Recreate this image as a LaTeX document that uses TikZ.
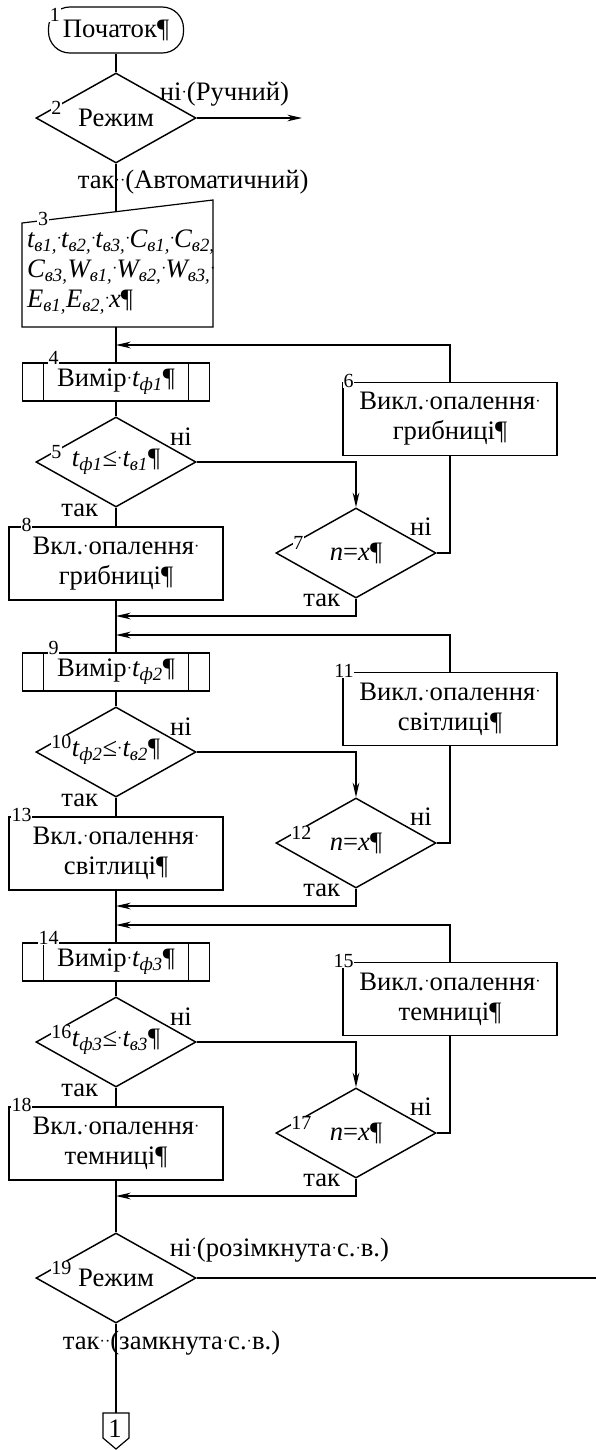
\documentclass[tikz,border=0pt]{standalone}
\usepackage{fontspec}
\setmainfont{Liberation Serif}
\usetikzlibrary{shapes.geometric,arrows.meta}

\newcommand{\ix}[1]{\textsubscript{#1}}
\newcommand{\dt}{\raisebox{2.5pt}{\fontsize{12}{12}\selectfont ·}}
\newcommand{\bigtxt}{\fontsize{20}{22.5}\selectfont}
\newcommand{\numtxt}{\fontsize{15}{17}\selectfont}

\tikzset{
  term/.style={draw, rounded corners=16pt, minimum width=101.25pt, minimum height=34.5pt, inner sep=0pt},
  dec/.style={draw, diamond, aspect=1.78, minimum width=120pt, minimum height=67.5pt, inner sep=0pt, line width=1.1pt},
  predef/.style={draw, minimum width=140.25pt, minimum height=28.5pt, inner sep=0pt},
  proc/.style={draw, minimum width=160.5pt, minimum height=54.75pt, inner sep=0pt, align=center},
  num/.style={font=\numtxt, fill=white, inner sep=0.5pt},
  ans/.style={inner sep=1pt},
}

\begin{document}
\begin{tikzpicture}[x=0.75pt,y=-0.75pt,>={Stealth[length=11pt,width=5pt,inset=3.5pt]},line width=0.9pt,font=\bigtxt]
\useasboundingbox (0,0) rectangle (596,1450);

% start and mode
\node[term] (n1) at (116,30) {Початок¶};
\node[dec] (n2) at (116,118) {Режим};
\node[ans,anchor=west] (no2) at (158,94) {ні\dt(Ручний)};
\coordinate (out2) at (302,118);
\node[ans,anchor=west] (yes2) at (76,182) {так\dt\dt(Автоматичний)};

% input data
\coordinate (m3tl) at (22,223);
\coordinate (m3tr) at (213,200);
\coordinate (m3br) at (213,327);
\coordinate (m3bl) at (22,327);
\coordinate (m3in) at (116,211.7);
\coordinate (m3out) at (116,327);
\node[anchor=west,align=left,font=\bigtxt\itshape] (n3) at (22,272)
  {t\ix{в1,}\dt t\ix{в2,}\dt t\ix{в3,}\dt C\ix{в1,}\dt C\ix{в2,}\\
   C\ix{в3,}W\ix{в1,}\dt W\ix{в2,}\dt W\ix{в3,}\dt\\
   E\ix{в1,}E\ix{в2,}\dt x{\upshape ¶}};

% mushroom room
\coordinate (j4) at (116,345);
\node[predef] (n4) at (116,382) {Вимір\dt\textit{t\ix{ф1}}¶};
\node[dec] (n5) at (116,462) {\textit{t\ix{ф1}}≤\dt\textit{t\ix{в1}}¶};
\node[ans] (no5) at (181,437) {ні};
\node[ans,anchor=east] (yes5) at (100,510) {так};
\node[proc] (n8) at (116,563.5) {Вкл.\dt опалення\dt\\грибниці¶};
\node[proc] (n6) at (450,419) {Викл.\dt опалення\dt\\грибниці¶};
\node[dec] (n7) at (356,553) {\textit{n}=\textit{x}¶};
\node[ans] (no7) at (421,527) {ні};
\node[ans,anchor=east] (yes7) at (342,600) {так};
\coordinate (j7) at (116,616);

% light room
\coordinate (j9) at (116,635);
\node[predef] (n9) at (116,672) {Вимір\dt\textit{t\ix{ф2}}¶};
\node[dec] (n10) at (116,752) {\textit{t\ix{ф2}}≤\dt\textit{t\ix{в2}}¶};
\node[ans] (no10) at (181,727) {ні};
\node[ans,anchor=east] (yes10) at (100,800) {так};
\node[proc] (n13) at (116,853.5) {Вкл.\dt опалення\dt\\світлиці¶};
\node[proc] (n11) at (450,709) {Викл.\dt опалення\dt\\світлиці¶};
\node[dec] (n12) at (356,843) {\textit{n}=\textit{x}¶};
\node[ans] (no12) at (421,817) {ні};
\node[ans,anchor=east] (yes12) at (342,890) {так};
\coordinate (j12) at (116,906);

% dark room
\coordinate (j14) at (116,925);
\node[predef] (n14) at (116,962) {Вимір\dt\textit{t\ix{ф3}}¶};
\node[dec] (n16) at (116,1042) {\textit{t\ix{ф3}}≤\dt\textit{t\ix{в3}}¶};
\node[ans] (no16) at (181,1017) {ні};
\node[ans,anchor=east] (yes16) at (100,1090) {так};
\node[proc] (n18) at (116,1143.5) {Вкл.\dt опалення\dt\\темниці¶};
\node[proc] (n15) at (450,999) {Викл.\dt опалення\dt\\темниці¶};
\node[dec] (n17) at (356,1133) {\textit{n}=\textit{x}¶};
\node[ans] (no17) at (421,1107) {ні};
\node[ans,anchor=east] (yes17) at (342,1180) {так};
\coordinate (j17) at (116,1196);

% end
\node[dec] (n19) at (116,1278) {Режим};
\node[ans,anchor=west] (no19) at (168,1250) {ні\dt(розімкнута\dt с.\dt в.)};
\coordinate (out19) at (596,1278);
\node[ans,anchor=west] (yes19) at (61,1343) {так\dt\dt(замкнута\dt с.\dt в.)};
\coordinate (n20top) at (116,1413);
\node (n20) at (115,1429) {1};

% main line
\draw (n1) -- (n2);
\draw [->] (n2) -- (out2);
\draw (n2) -- (m3in);
\draw (m3tl) -- (m3tr) -- (m3br) -- (m3bl) -- cycle;
\draw (m3out) -- (n4);
\draw (n4) -- (n5);
\draw (n5) -- (n8);
\draw (n8) -- (n9);
\draw (n9) -- (n10);
\draw (n10) -- (n13);
\draw (n13) -- (n14);
\draw (n14) -- (n16);
\draw (n16) -- (n18);
\draw (n18) -- (n19);
\draw (n19) -- (n20top);
\draw (n19) -- (out19);
\draw (n20top) -- ++(13,0) -- ++(0,25) -- ++(-13,11) -- ++(-13,-11) -- ++(0,-25) -- cycle;

% side loops
\draw [->] (n5) -| (n7);
\draw [->] (n6) |- (j4);
\draw (n6) |- (n7);
\draw [->] (n7) |- (j7);
\draw [->] (n10) -| (n12);
\draw [->] (n11) |- (j9);
\draw (n11) |- (n12);
\draw [->] (n12) |- (j12);
\draw [->] (n16) -| (n17);
\draw [->] (n15) |- (j14);
\draw (n15) |- (n17);
\draw [->] (n17) |- (j17);

% predefined process sides
\draw ([xshift=16pt]n4.north west) -- ([xshift=16pt]n4.south west);
\draw ([xshift=-16pt]n4.north east) -- ([xshift=-16pt]n4.south east);
\draw ([xshift=16pt]n9.north west) -- ([xshift=16pt]n9.south west);
\draw ([xshift=-16pt]n9.north east) -- ([xshift=-16pt]n9.south east);
\draw ([xshift=16pt]n14.north west) -- ([xshift=16pt]n14.south west);
\draw ([xshift=-16pt]n14.north east) -- ([xshift=-16pt]n14.south east);

% block numbers
\node[num] (k1) at (55,15) {1};
\node[num,anchor=west] (k2) at (50,108) {2};
\node[num] (k3) at (43,219) {3};
\node[num,anchor=south east] (k4) at (60,366) {4};
\node[num,anchor=west] (k5) at (50,452) {5};
\node[num,anchor=east] (k6) at (355,381) {6};
\node[num,anchor=west] (k7) at (292,543) {7};
\node[num,anchor=east] (k8) at (33,525) {8};
\node[num,anchor=south east] (k9) at (60,656) {9};
\node[num,anchor=west] (k10) at (50,742) {10};
\node[num,anchor=east] (k11) at (355,671) {11};
\node[num,anchor=west] (k12) at (290,833) {12};
\node[num,anchor=east] (k13) at (33,815) {13};
\node[num,anchor=south east] (k14) at (60,946) {14};
\node[num,anchor=east] (k15) at (355,961) {15};
\node[num,anchor=west] (k16) at (50,1032) {16};
\node[num,anchor=west] (k17) at (290,1123) {17};
\node[num,anchor=east] (k18) at (33,1105) {18};
\node[num,anchor=west] (k19) at (50,1268) {19};
\end{tikzpicture}
\end{document}
